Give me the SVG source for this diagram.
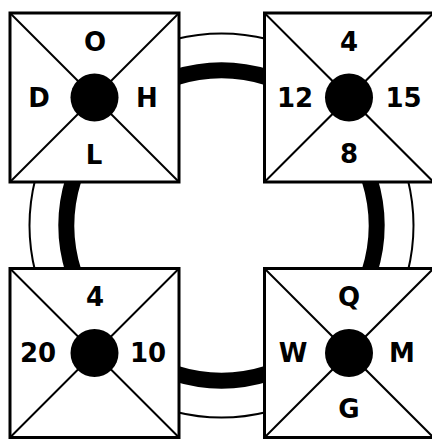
<svg xmlns="http://www.w3.org/2000/svg" width="432" height="439" viewBox="0 0 432 439">
<style>
.bg{fill:#fff}
.box{fill:#fff;stroke:#000;stroke-width:3}
.diag{stroke:#000;stroke-width:2}
.dot{fill:#000}
.thick{fill:none;stroke:#000;stroke-width:16}
.thin{fill:none;stroke:#000;stroke-width:2}
.lbl{font-family:"DejaVu Sans","Liberation Sans",sans-serif;font-weight:bold;font-size:26px;text-anchor:middle;fill:#000}
</style>
<rect class="bg" x="0" y="0" width="432" height="439"/>
<g id="connectors">
<path class="thick" d="M175,77.6 A155,155 0 0 1 268,77.6"/>
<path class="thin" d="M175,39.3 A192,192 0 0 1 268,39.3"/>
<path class="thick" d="M175,373.4 A155,155 0 0 0 268,373.4"/>
<path class="thin" d="M175,411.7 A192,192 0 0 0 268,411.7"/>
<path class="thick" d="M73.6,179 A155,155 0 0 0 73.6,272"/>
<path class="thin" d="M35.3,179 A192,192 0 0 0 35.3,272"/>
<path class="thick" d="M369.4,179 A155,155 0 0 1 369.4,272"/>
<path class="thin" d="M407.7,179 A192,192 0 0 1 407.7,272"/>
</g>
<g id="node-tl">
<rect class="box" x="10" y="13" width="169" height="169"/>
<line class="diag" x1="10" y1="13" x2="179" y2="182"/>
<line class="diag" x1="179" y1="13" x2="10" y2="182"/>
<circle class="dot" cx="94.5" cy="97.5" r="24"/>
<text class="lbl" x="95" y="51">O</text>
<text class="lbl" x="39" y="106.5">D</text>
<text class="lbl" x="147" y="106.5">H</text>
<text class="lbl" x="94" y="164">L</text>
</g>
<g id="node-tr">
<rect class="box" x="264.5" y="13" width="169" height="169"/>
<line class="diag" x1="264.5" y1="13" x2="433.5" y2="182"/>
<line class="diag" x1="433.5" y1="13" x2="264.5" y2="182"/>
<circle class="dot" cx="349" cy="97.5" r="24"/>
<text class="lbl" x="349" y="51">4</text>
<text class="lbl" x="295" y="106.5">12</text>
<text class="lbl" x="403.5" y="106.5">15</text>
<text class="lbl" x="349" y="162.5">8</text>
</g>
<g id="node-bl">
<rect class="box" x="10" y="268.5" width="169" height="169"/>
<line class="diag" x1="10" y1="268.5" x2="179" y2="437.5"/>
<line class="diag" x1="179" y1="268.5" x2="10" y2="437.5"/>
<circle class="dot" cx="94.5" cy="353" r="24"/>
<text class="lbl" x="95" y="306">4</text>
<text class="lbl" x="38" y="361.5">20</text>
<text class="lbl" x="148" y="361.5">10</text>
</g>
<g id="node-br">
<rect class="box" x="264.5" y="268.5" width="169" height="169"/>
<line class="diag" x1="264.5" y1="268.5" x2="433.5" y2="437.5"/>
<line class="diag" x1="433.5" y1="268.5" x2="264.5" y2="437.5"/>
<circle class="dot" cx="349" cy="353" r="24"/>
<text class="lbl" x="349" y="306">Q</text>
<text class="lbl" x="293" y="361.5">W</text>
<text class="lbl" x="402" y="361.5">M</text>
<text class="lbl" x="349" y="418">G</text>
</g>
</svg>
